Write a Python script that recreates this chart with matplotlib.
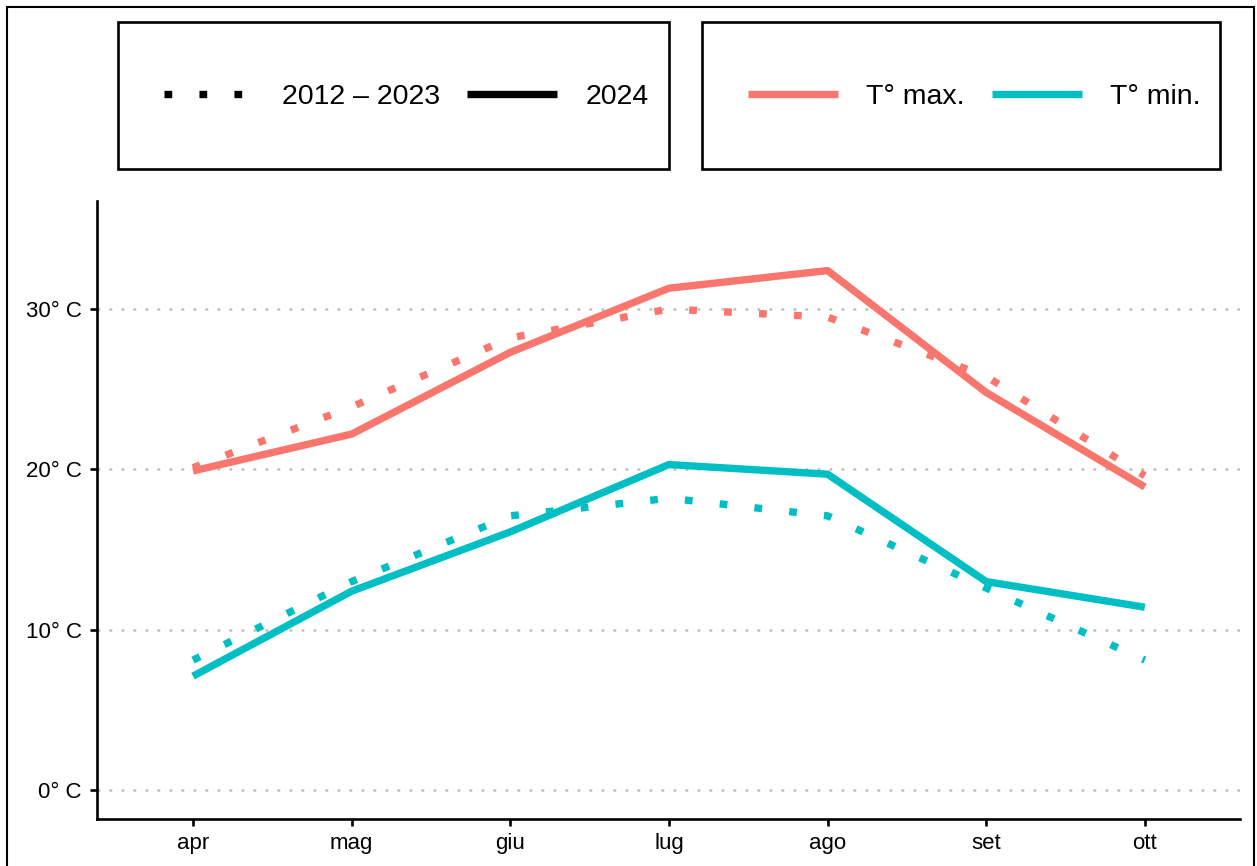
import matplotlib
matplotlib.use("Agg")
import matplotlib.pyplot as plt
from matplotlib.lines import Line2D
from matplotlib.patches import Rectangle

plt.rcParams['font.family'] = ['Liberation Sans', 'DejaVu Sans']

months = ['apr', 'mag', 'giu', 'lug', 'ago', 'set', 'ott']
tmax_2024 = [19.9, 22.2, 27.3, 31.3, 32.4, 24.8, 18.9]
tmax_hist = [20.1, 23.9, 28.2, 30.0, 29.5, 25.8, 19.6]
tmin_2024 = [7.1, 12.4, 16.1, 20.3, 19.7, 13.0, 11.4]
tmin_hist = [8.1, 13.0, 17.1, 18.2, 17.1, 12.6, 8.1]
yticks = [0, 10, 20, 30]
ytick_labels = ['0° C', '10° C', '20° C', '30° C']
period_labels = ['2012 – 2023', '2024']
var_labels = ['T° max.', 'T° min.']

RED = '#F8766D'
CYAN = '#00BFC4'
LW = 5.3
DOT = (0, (1.05, 3.7))

W, H = 1257, 866
fig = plt.figure(figsize=(W / 100, H / 100), dpi=100)

ax_left, ax_right, ax_bottom, ax_top = 97, 1240, 819, 201
ax = fig.add_axes([ax_left / W, 1 - ax_bottom / H, (ax_right - ax_left) / W, (ax_bottom - ax_top) / H])

x = list(range(len(months)))
for y in yticks:
    ax.axhline(y, color='#BEBEBE', lw=1.8, linestyle=(0, (1.1, 3.7)), zorder=1)

ax.plot(x, tmax_2024, color=RED, lw=LW, solid_capstyle='butt', solid_joinstyle='round', zorder=3)
ax.plot(x, tmin_2024, color=CYAN, lw=LW, solid_capstyle='butt', solid_joinstyle='round', zorder=3)
ax.plot(x, tmax_hist, color=RED, lw=LW, linestyle=DOT, dash_capstyle='butt', zorder=4)
ax.plot(x, tmin_hist, color=CYAN, lw=LW, linestyle=DOT, dash_capstyle='butt', zorder=4)

ax.set_xlim(-0.605, 6.6)
ax.set_ylim(-1.81, 36.74)
ax.set_xticks(x)
ax.set_xticklabels(months)
ax.set_yticks(yticks)
ax.set_yticklabels(ytick_labels)
ax.tick_params(axis='both', labelsize=16, length=5, width=1.9, colors='black', direction='out')
ax.tick_params(axis='y', pad=6)
ax.tick_params(axis='x', pad=5)
for s in ['top', 'right']:
    ax.spines[s].set_visible(False)
for s in ['left', 'bottom']:
    ax.spines[s].set_linewidth(1.9)
    ax.spines[s].set_color('black')

# outer border
fig.add_artist(Rectangle((7 / W, -0.02), (1254 - 7) / W, 1 - 7 / H + 0.02, transform=fig.transFigure,
                         fill=False, edgecolor='black', lw=1.5))

# legend boxes
for (x0, x1) in [(118, 669), (702, 1220)]:
    fig.add_artist(Rectangle((x0 / W, 1 - 169 / H), (x1 - x0) / W, (169 - 22) / H,
                             transform=fig.transFigure, fill=False, edgecolor='black', lw=1.9))

h1 = [Line2D([], [], color='black', lw=LW, linestyle=DOT, dash_capstyle='butt'),
      Line2D([], [], color='black', lw=LW, solid_capstyle='butt')]
h2 = [Line2D([], [], color=RED, lw=LW, solid_capstyle='butt'),
      Line2D([], [], color=CYAN, lw=LW, solid_capstyle='butt')]

leg_kw = dict(loc='center', ncol=2, frameon=False, fontsize=20.5, handlelength=3.15,
              handletextpad=1.0, columnspacing=0.95)
fig.legend(h1, period_labels, bbox_to_anchor=(406.5 / W, 1 - 97 / H), **leg_kw)
fig.legend(h2, var_labels, bbox_to_anchor=(974.5 / W, 1 - 97 / H), **leg_kw)

fig.savefig('out.png', dpi=100, facecolor='white')
